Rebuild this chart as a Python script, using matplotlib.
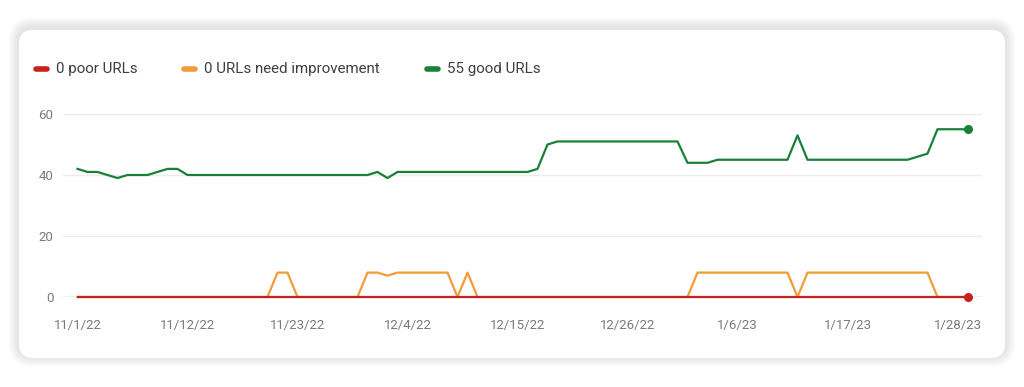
import matplotlib.pyplot as plt
import matplotlib.dates as mdates
from matplotlib.lines import Line2D
from matplotlib.patches import FancyBboxPatch
import pandas as pd

plt.rcParams['font.family'] = ['Roboto', 'DejaVu Sans']

# data (one point per day, 11/1/22 .. 1/29/23)
dates = pd.date_range('2022-11-01', '2023-01-29', freq='D')
good = [42, 41, 41, 40, 39, 40, 40, 40, 41, 42, 42, 40,
        40, 40, 40, 40, 40, 40, 40, 40, 40, 40, 40, 40, 40, 40, 40, 40, 40, 40,
        41, 39, 41,
        41, 41, 41, 41, 41, 41, 41, 41, 41, 41, 41, 41, 41,
        42, 50,
        51, 51, 51, 51, 51, 51, 51, 51, 51, 51, 51, 51, 51,
        44, 44, 44,
        45, 45, 45, 45, 45, 45, 45, 45,
        53,
        45, 45, 45, 45, 45, 45, 45, 45, 45, 45, 45,
        46, 47,
        55, 55, 55, 55]
need_improvement = [0, 0, 0, 0, 0, 0, 0, 0, 0, 0, 0, 0, 0, 0, 0, 0, 0, 0, 0, 0,
                    8, 8, 0,
                    0, 0, 0, 0, 0, 0,
                    8, 8, 7, 8, 8, 8, 8, 8, 8, 0, 8, 0,
                    0, 0, 0, 0, 0, 0, 0, 0, 0, 0, 0, 0, 0, 0, 0, 0, 0, 0, 0, 0, 0,
                    8, 8, 8, 8, 8, 8, 8, 8, 8, 8,
                    0,
                    8, 8, 8, 8, 8, 8, 8, 8, 8, 8, 8, 8, 8,
                    0, 0, 0, 0]
poor = [0] * len(dates)

tick_dates = ['2022-11-01', '2022-11-12', '2022-11-23', '2022-12-04', '2022-12-15',
              '2022-12-26', '2023-01-06', '2023-01-17', '2023-01-28']
tick_labels = ['11/1/22', '11/12/22', '11/23/22', '12/4/22', '12/15/22',
               '12/26/22', '1/6/23', '1/17/23', '1/28/23']
legend_labels = ['0 poor URLs', '0 URLs need improvement', '55 good URLs']

red = '#c5221f'
orange = '#f29b38'
green = '#188038'

W, H = 1024, 387
fig = plt.figure(figsize=(W / 100, H / 100), dpi=100)
fig.patch.set_facecolor('white')

# card with soft shadow
for i, a in enumerate([0.025, 0.025, 0.02, 0.02, 0.015]):
    pad = (5 - i) * 2.0
    fig.add_artist(FancyBboxPatch(((19 - pad) / W, (H - 358 - pad + 2) / H),
                                  (986 + 2 * pad) / W, (328 + 2 * pad) / H,
                                  boxstyle=f'round,pad=0,rounding_size={(14 + pad) / W}',
                                  transform=fig.transFigure, fc='black', ec='none',
                                  alpha=a, mutation_aspect=W / H, zorder=0))
fig.add_artist(FancyBboxPatch((19 / W, (H - 358) / H), 986 / W, 328 / H,
                              boxstyle=f'round,pad=0,rounding_size={14 / W}',
                              transform=fig.transFigure, fc='white', ec='none',
                              mutation_aspect=W / H, zorder=1))

ax = fig.add_axes([63 / W, 90 / H, 919 / W, 183 / H])
ax.set_facecolor('none')
ax.set_zorder(2)

for y in [20, 40, 60]:
    ax.axhline(y, color='#ececec', lw=1, zorder=1)
ax.axhline(0, color='#b0b0b0', lw=1, zorder=1)

ax.plot(dates, need_improvement, color=orange, lw=1.6, clip_on=False, zorder=3)
ax.plot(dates, poor, color=red, lw=1.6, clip_on=False, zorder=4)
ax.plot(dates, good, color=green, lw=1.6, clip_on=False, zorder=4)
ax.plot(dates[-1:], poor[-1:], 'o', color=red, ms=5.5, clip_on=False, zorder=5)
ax.plot(dates[-1:], good[-1:], 'o', color=green, ms=5.5, clip_on=False, zorder=5)

x0 = mdates.date2num(dates[0])
ax.set_xlim(x0 - 1.45, x0 + 90.45)
ax.set_ylim(0, 60)
ax.set_yticks([0, 20, 40, 60])
ax.set_xticks(pd.to_datetime(tick_dates))
ax.set_xticklabels(tick_labels)
ax.tick_params(axis='both', length=0, colors='#7a7a7a', labelsize=9.5)
ax.tick_params(axis='x', pad=16)
ax.tick_params(axis='y', pad=7)
for s in ax.spines.values():
    s.set_visible(False)

# legend
leg_x = [36, 184, 427]
for x, lab, c in zip(leg_x, legend_labels, [red, orange, green]):
    fig.add_artist(Line2D([x / W, (x + 11) / W], [(H - 69) / H] * 2, color=c, lw=4,
                          solid_capstyle='round', transform=fig.transFigure, zorder=3))
    fig.text((x + 20) / W, (H - 69) / H, lab, va='center', ha='left',
             fontsize=10.9, color='#3c4043', zorder=3)

fig.savefig('out.png', dpi=100)
